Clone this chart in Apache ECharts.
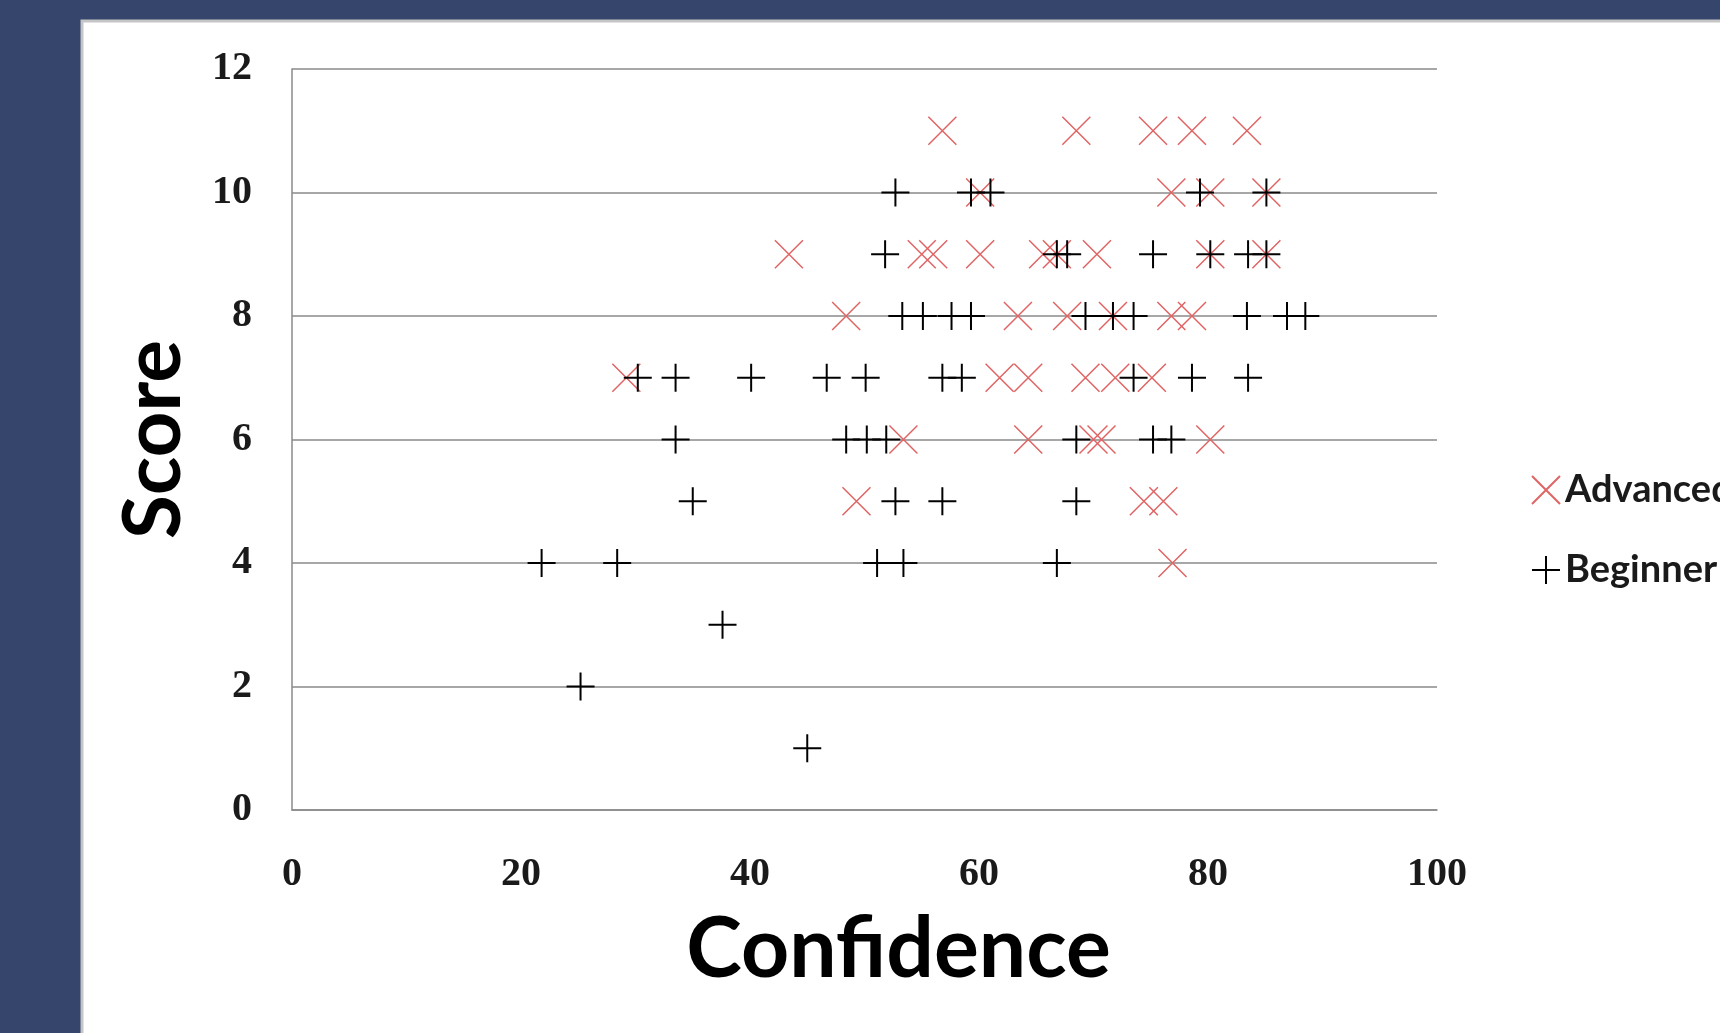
<!DOCTYPE html>
<html>
<head>
<meta charset="utf-8">
<script src="https://cdn.jsdelivr.net/npm/echarts@6/dist/echarts.min.js"></script>
<style>
  html, body { margin: 0; padding: 0; background: #35456c; }
  #chart { width: 1720px; height: 1033px; }
</style>
</head>
<body>
<div id="chart"></div>
<script>
// confidence (x) / score (y) pairs
const advancedConf = [56.8, 68.5, 75.2, 78.6, 83.4,
  60.1, 76.8, 80.2, 85.1,
  43.4, 55.0, 56.0, 60.1, 65.6, 66.8, 70.3, 80.2, 85.1,
  48.4, 63.4, 67.7, 71.7, 76.8, 78.6,
  29.2, 61.8, 64.3, 69.3, 71.9, 75.1,
  53.4, 64.3, 70.0, 70.7, 80.2,
  49.3, 74.4, 76.1,
  76.9];
const advancedScore = [11, 11, 11, 11, 11,
  10, 10, 10, 10,
  9, 9, 9, 9, 9, 9, 9, 9, 9,
  8, 8, 8, 8, 8, 8,
  7, 7, 7, 7, 7, 7,
  6, 6, 6, 6, 6,
  5, 5, 5,
  4];

const beginnerConf = [52.7, 59.3, 61.0, 79.3, 85.1,
  51.8, 66.8, 67.7, 75.2, 80.2, 83.5, 85.1,
  53.3, 55.1, 57.6, 59.3, 69.3, 71.7, 73.5, 83.4, 86.9, 88.5,
  30.2, 33.5, 40.1, 46.7, 50.1, 56.8, 58.5, 73.5, 78.6, 83.5,
  33.5, 48.4, 50.2, 51.9, 68.5, 75.2, 76.8,
  35.0, 52.7, 56.8, 68.5,
  21.8, 28.4, 51.1, 53.4, 66.8,
  37.6,
  25.2,
  45.0];
const beginnerScore = [10, 10, 10, 10, 10,
  9, 9, 9, 9, 9, 9, 9,
  8, 8, 8, 8, 8, 8, 8, 8, 8, 8,
  7, 7, 7, 7, 7, 7, 7, 7, 7, 7,
  6, 6, 6, 6, 6, 6, 6,
  5, 5, 5, 5,
  4, 4, 4, 4, 4,
  3,
  2,
  1];

const xTicks = [0, 20, 40, 60, 80, 100];
const yTicks = [0, 2, 4, 6, 8, 10, 12];

const zip = (xs, ys) => xs.map((x, i) => [x, ys[i]]);

const crossPath = 'path://M0,0L10,10M10,0L0,10';
const plusPath = 'path://M0,5L10,5M5,0L5,10';

const chart = echarts.init(document.getElementById('chart'));

const option = {
  backgroundColor: '#35456c',
  animation: false,
  graphic: [{
    type: 'rect',
    z: -10,
    shape: { x: 82, y: 21, width: 1700, height: 1100 },
    style: { fill: '#ffffff', stroke: '#c6c6c6', lineWidth: 3 }
  }],
  grid: { left: 292, right: 283, top: 69, bottom: 223 },
  legend: {
    orient: 'vertical',
    left: 1526,
    top: 466,
    itemWidth: 28,
    itemHeight: 28,
    itemGap: 42,
    textStyle: { fontFamily: 'Lato', fontWeight: 'bold', fontSize: 38, color: '#1a1a1a' },
    data: ['Advanced', 'Beginner']
  },
  xAxis: {
    type: 'value',
    min: 0, max: 100, interval: 20,
    name: 'Confidence',
    nameLocation: 'middle',
    nameGap: 98,
    nameTextStyle: { fontFamily: 'Lato', fontWeight: 'bold', fontSize: 84, color: '#000', padding: [0, 0, 0, 68] },
    axisLine: { show: true, lineStyle: { color: '#8a8a8a', width: 1.5 } },
    axisTick: { show: false },
    splitLine: { show: false },
    axisLabel: {
      margin: 45,
      fontFamily: 'Liberation Serif', fontWeight: 'bold', fontSize: 40, color: '#1a1a1a',
      formatter: v => xTicks.includes(v) ? String(v) : ''
    }
  },
  yAxis: {
    type: 'value',
    min: 0, max: 12, interval: 2,
    name: 'Score',
    nameLocation: 'middle',
    nameGap: 98,
    nameTextStyle: { fontFamily: 'Lato', fontWeight: 'bold', fontSize: 80, color: '#000' },
    axisLine: { show: true, lineStyle: { color: '#8a8a8a', width: 1.5 } },
    axisTick: { show: false },
    splitLine: { show: true, lineStyle: { color: '#8a8a8a', width: 1.5 } },
    axisLabel: {
      margin: 40,
      fontFamily: 'Liberation Serif', fontWeight: 'bold', fontSize: 40, color: '#1a1a1a',
      formatter: v => yTicks.includes(v) ? String(v) : ''
    }
  },
  series: [
    {
      name: 'Advanced',
      type: 'scatter',
      symbol: crossPath,
      symbolSize: 28,
      itemStyle: { color: 'rgba(0,0,0,0)', borderColor: '#e06464', borderWidth: 1.5, opacity: 1 },
      data: zip(advancedConf, advancedScore)
    },
    {
      name: 'Beginner',
      type: 'scatter',
      symbol: plusPath,
      symbolSize: 28,
      itemStyle: { color: 'rgba(0,0,0,0)', borderColor: '#000000', borderWidth: 2, opacity: 1 },
      data: zip(beginnerConf, beginnerScore)
    }
  ]
};

chart.setOption(option);
</script>
</body>
</html>
